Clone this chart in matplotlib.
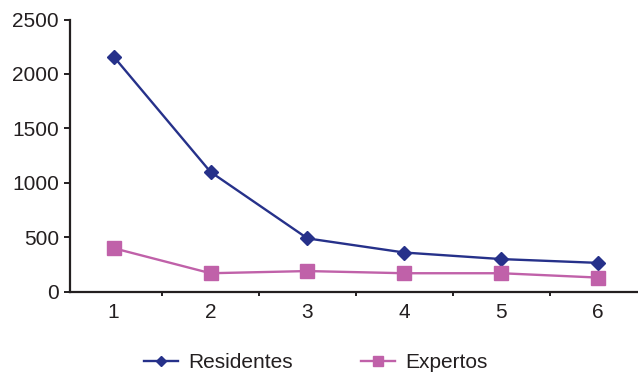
import matplotlib
matplotlib.use('Agg')
from matplotlib import pyplot as plt
from matplotlib.ticker import FixedLocator

plt.rcParams['font.family'] = ['Liberation Sans', 'DejaVu Sans']

grupos = [1, 2, 3, 4, 5, 6]
residentes = [2160, 1100, 490, 360, 300, 265]
expertos = [400, 170, 190, 170, 170, 130]

azul = '#26318a'
rosa = '#c061a9'
negro = '#231f20'

fig = plt.figure(figsize=(6.38, 3.75), dpi=100)
ax = fig.add_axes([0.1097, 0.222, 0.8903, 0.726])

ax.plot(grupos, residentes, color=azul, lw=1.7, marker='D', ms=7.5,
        label='Residentes')
ax.plot(grupos, expertos, color=rosa, lw=1.7, marker='s', ms=10,
        label='Expertos')

ax.set_xlim(0.55, 6.41)
ax.set_ylim(0, 2500)
ax.set_yticks([0, 500, 1000, 1500, 2000, 2500])
ax.set_xticks(grupos)
ax.xaxis.set_minor_locator(FixedLocator([1.5, 2.5, 3.5, 4.5, 5.5]))

for side in ['top', 'right']:
    ax.spines[side].set_visible(False)
for side in ['left', 'bottom']:
    ax.spines[side].set_color(negro)
    ax.spines[side].set_linewidth(1.6)

ax.tick_params(axis='y', direction='out', length=4, width=1.4,
               color=negro, labelsize=15, labelcolor=negro, pad=4)
ax.tick_params(axis='x', which='major', length=0, labelsize=15,
               labelcolor=negro, pad=8)
ax.tick_params(axis='x', which='minor', direction='out', length=3,
               width=1.4, color=negro)

fig.legend(loc='center', bbox_to_anchor=(0.495, 0.032), ncol=2,
           frameon=False, fontsize=15, handlelength=1.6, markerscale=0.7,
           columnspacing=3.3, handletextpad=0.5, labelcolor=negro)

fig.savefig('out.png', dpi=100)
